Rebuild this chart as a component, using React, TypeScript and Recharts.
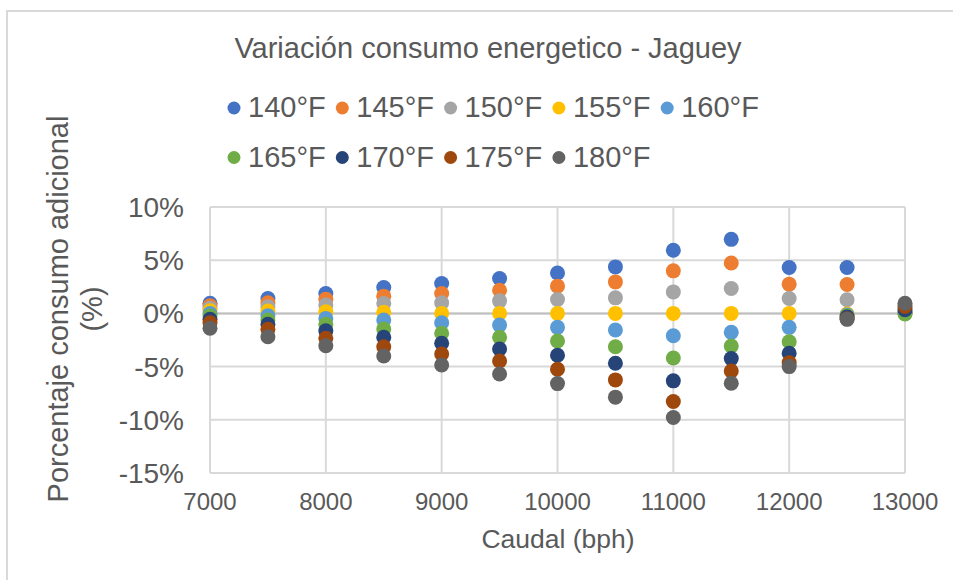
import { ScatterChart, Scatter, XAxis, YAxis, CartesianGrid, ReferenceLine } from "recharts";

// Caudal (bph) on the x axis
const caudal = [7000, 7500, 8000, 8500, 9000, 9500, 10000, 10500, 11000, 11500, 12000, 12500, 13000];

// Porcentaje consumo adicional (%) per temperature
const t140 = [0.95, 1.4, 1.87, 2.44, 2.81, 3.28, 3.8, 4.37, 5.93, 6.96, 4.31, 4.31, 0.1];
const t145 = [0.72, 1.0, 1.34, 1.62, 1.87, 2.18, 2.56, 2.96, 4.0, 4.74, 2.75, 2.72, 0.1];
const t150 = [0.48, 0.62, 0.78, 0.94, 0.99, 1.18, 1.31, 1.46, 2.02, 2.34, 1.4, 1.28, 0.05];
const t155 = [0.24, 0.22, 0.15, 0.1, 0, 0, 0, 0, 0, 0, 0, -0.05, 0];
const t160 = [0, -0.22, -0.47, -0.63, -0.88, -1.1, -1.31, -1.56, -2.1, -1.78, -1.31, -0.15, 0.05];
const t165 = [-0.25, -0.63, -1.03, -1.47, -1.87, -2.25, -2.6, -3.13, -4.19, -3.07, -2.66, -0.25, -0.05];
const t170 = [-0.56, -1.03, -1.63, -2.25, -2.81, -3.35, -3.94, -4.69, -6.34, -4.25, -3.75, -0.35, 0.35];
const t175 = [-0.88, -1.5, -2.34, -3.13, -3.81, -4.47, -5.25, -6.25, -8.28, -5.41, -4.63, -0.5, 0.65];
const t180 = [-1.4, -2.19, -3.04, -4.0, -4.85, -5.69, -6.6, -7.87, -9.78, -6.56, -5.0, -0.56, 0.95];

const seriesNames = ["140°F", "145°F", "150°F", "155°F", "160°F", "165°F", "170°F", "175°F", "180°F"];
const seriesValues = [t140, t145, t150, t155, t160, t165, t170, t175, t180];
const seriesColors = ["#4472C4", "#ED7D31", "#A5A5A5", "#FFC000", "#5B9BD5", "#70AD47", "#264478", "#9E480E", "#636363"];

const xTicks = [7000, 8000, 9000, 10000, 11000, 12000, 13000];
const yTicks = [-15, -10, -5, 0, 5, 10];

const FONT = '"Liberation Sans", Arial, sans-serif';
const TEXT = "#595959";
const GRID = "#d9d9d9";

const series = seriesNames.map((name, i) => ({
  name,
  color: seriesColors[i],
  data: caudal.map((x, j) => ({ x, y: seriesValues[i][j] })),
}));

// Excel-style round marker, about 15px across
const Dot = (props: any) => <circle cx={props.cx} cy={props.cy} r={7.5} fill={props.fill} />;

export default function App() {
  return (
    <div style={{ position: "fixed", left: 0, top: 0, width: 953, height: 580, overflow: "hidden", background: "#fff" }}>
      {/* chart frame, runs off the right and bottom edges */}
      <div style={{ position: "absolute", left: 6, top: 10, width: 980, height: 620, border: `2px solid ${GRID}`, boxSizing: "border-box" }} />

      <div style={{ position: "absolute", left: 0, top: 0 }}>
        <ScatterChart width={953} height={580} margin={{ top: 207, right: 48, bottom: 0, left: 0 }}>
          <CartesianGrid stroke={GRID} strokeWidth={2} horizontalValues={yTicks} verticalValues={xTicks} />
          <XAxis
            type="number"
            dataKey="x"
            domain={[7000, 13000]}
            ticks={xTicks}
            interval={0}
            height={107}
            axisLine={false}
            tickLine={false}
            tickSize={0}
            tickMargin={20}
            tick={{ fill: TEXT, fontSize: 24, fontFamily: FONT }}
          />
          <YAxis
            type="number"
            dataKey="y"
            domain={[-15, 10]}
            ticks={yTicks}
            interval={0}
            width={210}
            axisLine={false}
            tickLine={false}
            tickSize={0}
            tickMargin={26}
            tickFormatter={(v) => `${v}%`}
            tick={{ fill: TEXT, fontSize: 28, fontFamily: FONT }}
          />
          <ReferenceLine y={0} stroke="#bfbfbf" strokeWidth={2} />
          {series.map((s) => (
            <Scatter key={s.name} name={s.name} data={s.data} fill={s.color} shape={Dot} isAnimationActive={false} />
          ))}
        </ScatterChart>
      </div>

      {/* title, legend and axis titles */}
      <svg width={953} height={580} style={{ position: "absolute", left: 0, top: 0, pointerEvents: "none" }}>
        <text x={488} y={58} textAnchor="middle" fontSize={29} fill={TEXT} fontFamily={FONT}>
          Variación consumo energetico - Jaguey
        </text>
        {seriesNames.map((name, i) => {
          const col = i % 5;
          const row = Math.floor(i / 5);
          const cx = 234 + col * 108.3;
          const base = 117 + row * 49.5;
          return (
            <g key={name}>
              <circle cx={cx} cy={base - 9} r={6.5} fill={seriesColors[i]} />
              <text x={cx + 14} y={base} fontSize={29} fill={TEXT} fontFamily={FONT}>
                {name}
              </text>
            </g>
          );
        })}
        <text x={68} y={309} transform="rotate(-90 68 309)" textAnchor="middle" fontSize={29} fill={TEXT} fontFamily={FONT}>
          Porcentaje consumo adicional
        </text>
        <text x={102} y={309} transform="rotate(-90 102 309)" textAnchor="middle" fontSize={29} fill={TEXT} fontFamily={FONT}>
          (%)
        </text>
        <text x={558} y={548} textAnchor="middle" fontSize={26.5} fill={TEXT} fontFamily={FONT}>
          Caudal (bph)
        </text>
      </svg>
    </div>
  );
}
